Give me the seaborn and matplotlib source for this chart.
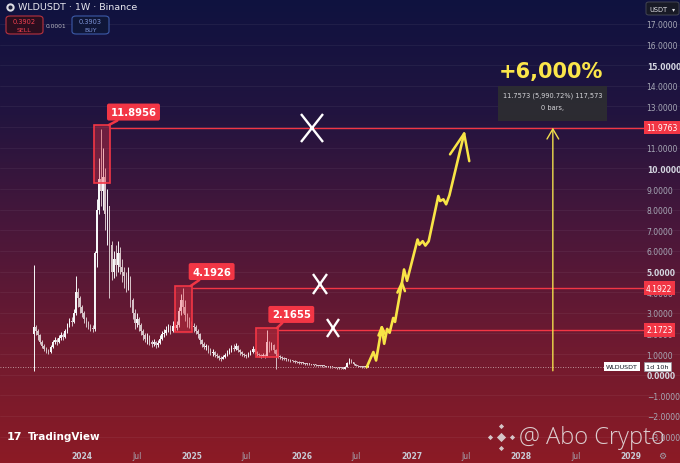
import numpy as np
import pandas as pd
import matplotlib
matplotlib.use("Agg")
import matplotlib.pyplot as plt
import matplotlib.dates as mdates
from matplotlib.colors import LinearSegmentedColormap, to_rgba
from matplotlib.patches import Rectangle, FancyBboxPatch
from matplotlib.markers import MarkerStyle
from matplotlib.transforms import Affine2D
import seaborn as sns

sns.set_theme(style="dark")
plt.rcParams["font.family"] = ["DejaVu Sans"]

# weekly candles WLDUSDT (1W, Binance)
first_week = "2023-07-24"
open0 = 1.95
close = [
    2.3, 2.1, 1.9, 1.6, 1.4, 1.25, 1.15, 1.1, 1.35, 1.6,
    1.7, 1.6, 1.8, 1.9, 1.85, 2.1, 2.4, 2.6, 2.55, 3.0,
    4.0, 3.7, 3.3, 3.0, 2.7, 2.5, 2.35, 2.25, 2.2, 5.9,
    8.0, 9.5, 8.9, 9.6, 7.8, 8.2, 6.3, 5.0, 5.6, 5.3,
    5.9, 5.2, 5.0, 4.8, 4.4, 4.7, 3.6, 3.0, 2.5, 2.7,
    2.4, 2.1, 1.9, 1.75, 1.8, 1.6, 1.5, 1.6, 1.45, 1.55,
    1.75, 1.95, 2.0, 2.15, 2.3, 2.1, 2.35, 2.25, 2.4, 3.1,
    3.6, 3.3, 2.9, 2.6, 2.5, 2.35, 2.3, 2.1, 1.95, 1.7,
    1.5, 1.35, 1.4, 1.2, 1.05, 1.1, 0.95, 0.9, 0.82, 0.78,
    0.85, 0.95, 1.05, 1.2, 1.3, 1.25, 1.4, 1.2, 1.1, 1.0,
    0.95, 0.9, 1.0, 1.1, 1.25, 1.1, 1.0, 0.95, 0.9, 0.95,
    0.9, 1.6, 1.3, 1.45, 1.2, 1.0, 0.92, 0.85, 0.8, 0.76,
    0.74, 0.7, 0.68, 0.65, 0.63, 0.6, 0.58, 0.56, 0.55, 0.53,
    0.52, 0.5, 0.48, 0.47, 0.45, 0.44, 0.43, 0.42, 0.4, 0.39,
    0.38, 0.36, 0.35, 0.34, 0.33, 0.32, 0.31, 0.3, 0.36, 0.55,
    0.68, 0.6, 0.5, 0.44, 0.41, 0.38, 0.36, 0.35, 0.37, 0.39,
]
high = [
    5.3, 2.4, 2.2, 1.95, 1.7, 1.5, 1.35, 1.25, 1.45, 1.7,
    1.85, 1.8, 1.9, 2.05, 2.0, 2.2, 2.5, 2.75, 2.8, 3.2,
    4.8, 4.2, 3.8, 3.4, 3.1, 2.8, 2.6, 2.45, 2.4, 6.0,
    8.5, 10.5, 11.9, 11.0, 10.0, 9.0, 8.0, 6.5, 6.0, 6.3,
    6.5, 6.2, 5.6, 5.2, 5.0, 5.2, 4.8, 3.7, 3.2, 3.0,
    2.8, 2.5, 2.2, 2.0, 2.0, 1.9, 1.7, 1.75, 1.65, 1.7,
    1.9, 2.1, 2.2, 2.35, 2.45, 2.4, 2.6, 2.5, 2.6, 3.3,
    3.9, 4.19, 3.6, 3.0, 2.8, 2.6, 2.5, 2.4, 2.2, 2.0,
    1.75, 1.6, 1.5, 1.45, 1.3, 1.25, 1.15, 1.05, 0.95, 0.9,
    0.95, 1.05, 1.2, 1.3, 1.45, 1.5, 1.55, 1.45, 1.25, 1.15,
    1.05, 1.0, 1.1, 1.2, 1.4, 1.3, 1.15, 1.05, 1.0, 1.05,
    1.0, 2.17, 1.65, 1.6, 1.5, 1.25, 1.05, 0.95, 0.9, 0.85,
    0.8, 0.78, 0.74, 0.72, 0.69, 0.66, 0.64, 0.61, 0.6, 0.58,
    0.56, 0.55, 0.53, 0.51, 0.5, 0.48, 0.47, 0.46, 0.44, 0.43,
    0.42, 0.4, 0.39, 0.37, 0.36, 0.35, 0.34, 0.33, 0.4, 0.6,
    0.8, 0.74, 0.62, 0.52, 0.46, 0.43, 0.4, 0.38, 0.4, 0.41,
]
low = [
    0.2, 1.9, 1.7, 1.5, 1.3, 1.15, 1.05, 1.0, 1.05, 1.3,
    1.5, 1.45, 1.55, 1.7, 1.7, 1.8, 2.0, 2.3, 2.35, 2.5,
    2.9, 3.3, 3.0, 2.8, 2.5, 2.3, 2.2, 2.1, 2.05, 2.1,
    5.2, 7.8, 8.2, 8.0, 7.0, 6.3, 3.7, 4.6, 4.7, 4.8,
    5.0, 4.9, 4.5, 4.2, 4.0, 4.1, 3.3, 2.7, 2.2, 2.3,
    2.1, 1.9, 1.7, 1.6, 1.5, 1.45, 1.35, 1.4, 1.3, 1.35,
    1.5, 1.7, 1.85, 1.9, 2.05, 1.95, 2.05, 2.1, 2.15, 2.3,
    2.9, 3.0, 2.6, 2.3, 2.25, 2.2, 2.05, 1.95, 1.8, 1.5,
    1.35, 1.25, 1.2, 1.05, 0.95, 0.9, 0.85, 0.8, 0.72, 0.65,
    0.75, 0.8, 0.9, 1.0, 1.1, 1.15, 1.2, 1.1, 0.95, 0.9,
    0.85, 0.8, 0.85, 0.95, 1.05, 1.0, 0.9, 0.85, 0.8, 0.85,
    0.8, 0.9, 1.1, 1.2, 1.05, 0.29, 0.8, 0.78, 0.72, 0.7,
    0.68, 0.65, 0.62, 0.6, 0.58, 0.56, 0.54, 0.52, 0.5, 0.49,
    0.48, 0.46, 0.45, 0.44, 0.42, 0.41, 0.4, 0.39, 0.37, 0.36,
    0.35, 0.33, 0.32, 0.31, 0.3, 0.29, 0.28, 0.27, 0.29, 0.35,
    0.52, 0.55, 0.46, 0.4, 0.38, 0.35, 0.33, 0.32, 0.34, 0.36,
]

# horizontal levels
levels = [11.9763, 4.1922, 2.1723]
level_start = ["2024-04-03", "2024-12-31", "2025-10-14"]

# highlighted tops
top_labels = ["11.8956", "4.1926", "2.1655"]
box_start = ["2024-02-10", "2024-11-05", "2025-08-01"]
box_end = ["2024-04-03", "2024-12-31", "2025-10-14"]
box_low = [9.29, 2.07, 0.86]
box_high = [12.10, 4.30, 2.26]
label_date = ["2024-06-20", "2025-03-07", "2025-11-27"]
label_price = [12.73, 5.00, 2.92]

# white crosses
cross_date = ["2026-02-04", "2026-03-02", "2026-04-15"]
cross_price = [11.98, 4.40, 2.26]
cross_size = [20, 14.5, 13]
cross_squeeze = [0.82, 0.7, 0.67]

# hand drawn yellow projection, days after 2024-01-01
path_day = [947, 969, 978, 997, 1005, 1015, 1023, 1035, 1041, 1064, 1071, 1081,
            1116, 1122, 1133, 1142, 1153, 1185, 1191, 1202, 1211, 1222, 1271]
path_price = [0.37, 1.10, 0.69, 2.30, 1.50, 2.22, 2.03, 2.75, 2.56, 4.45, 5.10, 4.55,
              6.55, 6.30, 6.47, 6.26, 6.47, 8.66, 8.42, 8.50, 8.26, 8.70, 11.69]
head_day = [[986, 997, 1008], [1049, 1064, 1074], [1224, 1271, 1288]]
head_price = [[1.90, 2.30, 1.98], [3.98, 4.45, 4.05], [10.68, 11.69, 10.35]]

target_date = "2028-04-15"
target_from, target_to = 0.19, 11.9763
measure_text = ["11.7573 (5,990.72%) 117,573", "0 bars,"]
gain_text = "+6,000%"

yticks = list(range(-3, 18))
xtick_dates = ["2024-01-01", "2024-07-01", "2025-01-01", "2025-07-01", "2026-01-01", "2026-07-01",
               "2027-01-01", "2027-07-01", "2028-01-01", "2028-07-01", "2029-01-01"]
xtick_labels = ["2024", "Jul", "2025", "Jul", "2026", "Jul", "2027", "Jul", "2028", "Jul", "2029"]


def num(s):
    return mdates.date2num(pd.Timestamp(s))


base = num("2024-01-01")
red = "#f23645"
yel = "#f8e446"

fig = plt.figure(figsize=(6.8, 4.64), dpi=100)
ax = fig.add_axes([0, 0, 1, 1])
x0, x1 = num("2023-04-03"), num("2029-06-12")
y0, y1 = -4.28, 18.21

# background gradient
bg = LinearSegmentedColormap.from_list("bg", ["#0f1240", "#22143f", "#4a173a", "#6f1a30", "#8c1b25"])
ax.imshow(np.linspace(0, 1, 256)[:, None], cmap=bg, aspect="auto",
          extent=[x0, x1, y0, y1], origin="upper", zorder=0)

# candles
df = pd.DataFrame({"date": pd.date_range(first_week, periods=len(close), freq="7D"),
                   "close": close, "high": high, "low": low})
df["open"] = [open0] + close[:-1]
df["x"] = mdates.date2num(df["date"].values)
up = df["close"] >= df["open"]
col = np.where(up, "#f7f7f9", "#d6c2c7")
body_lo = df[["open", "close"]].min(axis=1)
body_hi = df[["open", "close"]].max(axis=1)
body_h = (body_hi - body_lo).clip(lower=0.05)
ax.vlines(df["x"], np.minimum(df["low"], body_lo), np.maximum(df["high"], body_hi),
          colors=col, lw=0.7, zorder=4)
ax.bar(df["x"], body_h, bottom=body_lo, width=5.0, color=col, lw=0, zorder=4)

# levels with price scale labels
scale_x = num("2029-02-19")
line_end = num("2029-02-12")
for lv, st in zip(levels, level_start):
    ax.hlines(lv, num(st), line_end, color=red, lw=1.0, zorder=5)
    ax.text(scale_x, lv, f"{lv:.4f}", ha="left", va="center", fontsize=5.5, color="white",
            bbox=dict(boxstyle="square,pad=0.3", fc=red, ec="none"), zorder=9)

# boxes on the tops
for i in range(3):
    xs, xe = num(box_start[i]), num(box_end[i])
    ax.add_patch(Rectangle((xs, box_low[i]), xe - xs, box_high[i] - box_low[i],
                           fc=to_rgba(red, 0.35), ec=red, lw=1.2, zorder=5))
    ax.annotate(top_labels[i], xy=(xe - 4, box_high[i]),
                xytext=(num(label_date[i]), label_price[i]),
                ha="center", va="center", fontsize=7.2, fontweight="bold", color="white",
                bbox=dict(boxstyle="round,pad=0.35,rounding_size=0.2", fc=red, ec="none"),
                arrowprops=dict(arrowstyle="-", color=red, lw=1.8, shrinkA=0, shrinkB=0),
                zorder=7)

# crosses
for d, p, s, q in zip(cross_date, cross_price, cross_size, cross_squeeze):
    m = MarkerStyle("x", transform=Affine2D().scale(q, 1.0))
    ax.plot(num(d), p, marker=m, ms=s, mew=1.7, color="white", zorder=8)

# yellow projection
sns.lineplot(x=base + np.array(path_day), y=path_price, sort=False, estimator=None,
             color=yel, lw=1.9, ax=ax, zorder=8, legend=False)
for hd, hp in zip(head_day, head_price):
    ax.plot(base + np.array(hd), hp, color=yel, lw=1.8, solid_capstyle="round", zorder=8)

# measuring arrow
tx = num(target_date)
ax.annotate("", xy=(tx, target_to), xytext=(tx, target_from),
            arrowprops=dict(arrowstyle="->,head_length=0.6,head_width=0.35", color="#f0df4c",
                            lw=1.0, shrinkA=0, shrinkB=0), zorder=7)
mx0, mx1 = num("2027-10-16"), num("2028-10-12")
ax.add_patch(Rectangle((mx0, 12.30), mx1 - mx0, 14.0 - 12.30, fc="#2d2d31", ec="none",
                       alpha=0.93, zorder=7))
ax.text(tx, 13.56, measure_text[0], ha="center", va="center", fontsize=4.8, color="#d6d6da", zorder=8)
ax.text(tx, 12.97, measure_text[1], ha="center", va="center", fontsize=4.8, color="#d6d6da", zorder=8)
ax.text(num("2028-04-09"), 14.72, gain_text, ha="center", va="center", fontsize=15,
        fontweight="bold", color="#fbe64a", zorder=8)

# current price
last = close[-1]
ax.hlines(last, x0, num("2028-10-02"), colors="white", linestyles=(0, (1, 2)), lw=0.6,
          alpha=0.7, zorder=3)
ax.text(num("2028-10-09"), last, "WLDUSDT", ha="left", va="center", fontsize=4.6, color="#131722",
        bbox=dict(boxstyle="square,pad=0.35", fc="white", ec="none"), zorder=9)
ax.text(scale_x, last, "1d 10h", ha="left", va="center", fontsize=4.6, color="#131722",
        bbox=dict(boxstyle="square,pad=0.35", fc="white", ec="#9598a1", lw=0.5), zorder=9)

# axes
ax.set_yticks(yticks)
ax.set_yticklabels([f"{v:.4f}".replace("-", "\u2212") for v in yticks])
ax.tick_params(axis="y", left=False, right=False, labelleft=False, labelright=True, length=0,
               pad=-24, labelsize=5.5, labelcolor="#a7a9b6")
for lab, v in zip(ax.get_yticklabels(), yticks):
    if v % 5 == 0:
        lab.set_color("#d4d6e0")
        lab.set_fontweight("bold")
ax.set_xticks([num(s) for s in xtick_dates])
ax.set_xticklabels(xtick_labels)
ax.tick_params(axis="x", bottom=False, length=0, pad=-8.5, labelsize=5.5, labelcolor="#a7a9b6")
for lab in ax.get_xticklabels():
    if lab.get_text() != "Jul":
        lab.set_color("#c9cbd6")
        lab.set_fontweight("bold")
ax.grid(axis="y", color="white", alpha=0.06, lw=0.6)
ax.grid(axis="x", visible=False)
for sp in ax.spines.values():
    sp.set_visible(False)
ax.set_xlabel("")
ax.set_ylabel("")

# chart chrome (pixel placement)
T = ax.transAxes


def fx(px):
    return px / 680


def fy(py):
    return 1 - py / 464


ax.plot(fx(10), fy(8), "o", ms=6, mfc="#dcdce4", mec="none", transform=T, zorder=10)
ax.plot(fx(10), fy(8), "o", ms=3, mfc="#1a1c3a", mec="none", transform=T, zorder=10)
ax.text(fx(18), fy(8), "WLDUSDT \u00b7 1W \u00b7 Binance", fontsize=6.8, color="#e6e6ee",
        va="center", transform=T, zorder=10)
ax.add_patch(FancyBboxPatch((fx(6), fy(35)), 37 / 680, 18 / 464,
                            boxstyle="round,pad=0,rounding_size=0.006", fc="#2b0e1f", ec="#b8323f",
                            lw=0.8, transform=T, zorder=9))
ax.text(fx(24.5), fy(22), "0.3902", ha="center", va="center", fontsize=4.8, color="#f04050",
        transform=T, zorder=10)
ax.text(fx(24.5), fy(30), "SELL", ha="center", va="center", fontsize=4.5, color="#f04050",
        transform=T, zorder=10)
ax.text(fx(56), fy(26), "0.0001", ha="center", va="center", fontsize=4.3, color="#b8b8c2",
        transform=T, zorder=10)
ax.add_patch(FancyBboxPatch((fx(72), fy(35)), 37 / 680, 18 / 464,
                            boxstyle="round,pad=0,rounding_size=0.006", fc="#0f1638", ec="#3c5aa8",
                            lw=0.8, transform=T, zorder=9))
ax.text(fx(90.5), fy(22), "0.3903", ha="center", va="center", fontsize=4.8, color="#7d93d8",
        transform=T, zorder=10)
ax.text(fx(90.5), fy(30), "BUY", ha="center", va="center", fontsize=4.5, color="#7d93d8",
        transform=T, zorder=10)
ax.add_patch(FancyBboxPatch((fx(646), fy(16)), 33 / 680, 13 / 464,
                            boxstyle="round,pad=0,rounding_size=0.004", fc="#181a26", ec="#4a4c58",
                            lw=0.6, transform=T, zorder=9))
ax.text(fx(649), fy(9.5), "USDT", ha="left", va="center", fontsize=4.8, color="#e0e0e6",
        transform=T, zorder=10)
ax.text(fx(674), fy(9.5), "\u25be", ha="center", va="center", fontsize=4.5, color="#e0e0e6",
        transform=T, zorder=10)

# footer
ax.text(fx(7), fy(437), "17", ha="left", va="center", fontsize=8, fontweight="heavy",
        color="white", transform=T, zorder=10)
ax.text(fx(28), fy(437), "TradingView", ha="left", va="center", fontsize=7.5, fontweight="bold",
        color="white", transform=T, zorder=10)
ax.scatter([fx(501)], [fy(438)], marker="D", s=22, color="#e4e4e4", alpha=0.85, lw=0,
           transform=T, zorder=10)
ax.scatter([fx(490), fx(512), fx(501), fx(501)], [fy(438), fy(438), fy(427), fy(449)],
           marker="D", s=7, color="#e4e4e4", alpha=0.85, lw=0, transform=T, zorder=10)
ax.text(fx(519), fy(438), "@ Abo Crypto", ha="left", va="center", fontsize=17,
        family="Open Sans", fontweight="light", color="#ececec", alpha=0.85, transform=T, zorder=10)
ax.text(fx(662), fy(456), "\u2699", ha="center", va="center", fontsize=6.5, color="#a0a2ac",
        transform=T, zorder=10)

ax.set_xlim(x0, x1)
ax.set_ylim(y0, y1)
fig.savefig("out.png", dpi=100)
